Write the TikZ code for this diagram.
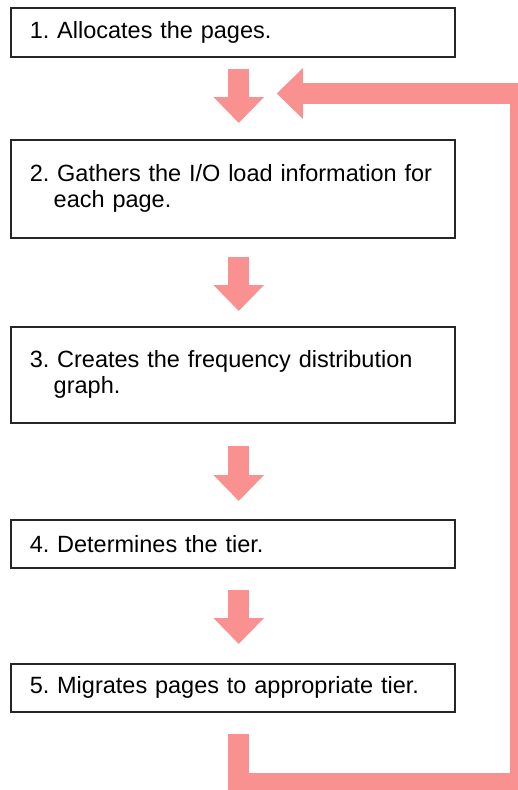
\documentclass[tikz,border=0pt]{standalone}
\usepackage{fontspec}
\setmainfont{Liberation Sans}
\usetikzlibrary{arrows.meta}
\definecolor{flowpink}{RGB}{250,145,145}
\newcommand{\indentline}{\hspace*{24pt}}
\frenchspacing
\begin{document}
\begin{tikzpicture}[x=1pt,y=-1pt,line join=miter,
		stepbox/.style={draw=black!85,line width=1.5pt,anchor=north west,minimum width=444pt,text width=406pt,inner xsep=19pt,align=left,font=\fontsize{23.5}{26}\selectfont\frenchspacing},
		flow/.style={draw=flowpink,line width=21pt,-{Triangle[width=49pt,length=26pt]}}]
	\useasboundingbox (0,0) rectangle (518,790);
	\clip (0,0) rectangle (518,790);
	\node[stepbox,minimum height=49pt] (b1) at (10,7) {1. Allocates the pages.};
	\node[stepbox,minimum height=98pt] (b2) at (10,139) {2. Gathers the I/O load information for\\\indentline each page.};
	\node[stepbox,minimum height=96pt] (b3) at (10,326) {3. Creates the frequency distribution\\\indentline graph.};
	\node[stepbox,minimum height=48pt] (b4) at (10,519) {4. Determines the tier.};
	\node[stepbox,minimum height=48pt] (b5) at (10,663) {5. Migrates pages to appropriate tier.};
	\foreach \a/\b/\up/\down in {b1/b2/11/16,b2/b3/18/15,b3/b4/22/18,b4/b5/21/19}{
		\draw[flow] ([xshift=6pt,yshift=-\up pt]\a.south) -- ([xshift=6pt,yshift=\down pt]\b.north);
	}
	\coordinate (back) at ([xshift=44pt,yshift=-36pt]b1.south);
	\coordinate (turn) at (520.5,783.5);
	\draw[flow] ([xshift=6pt,yshift=-21pt]b5.south) |- (turn) |- (back);
\end{tikzpicture}
\end{document}
